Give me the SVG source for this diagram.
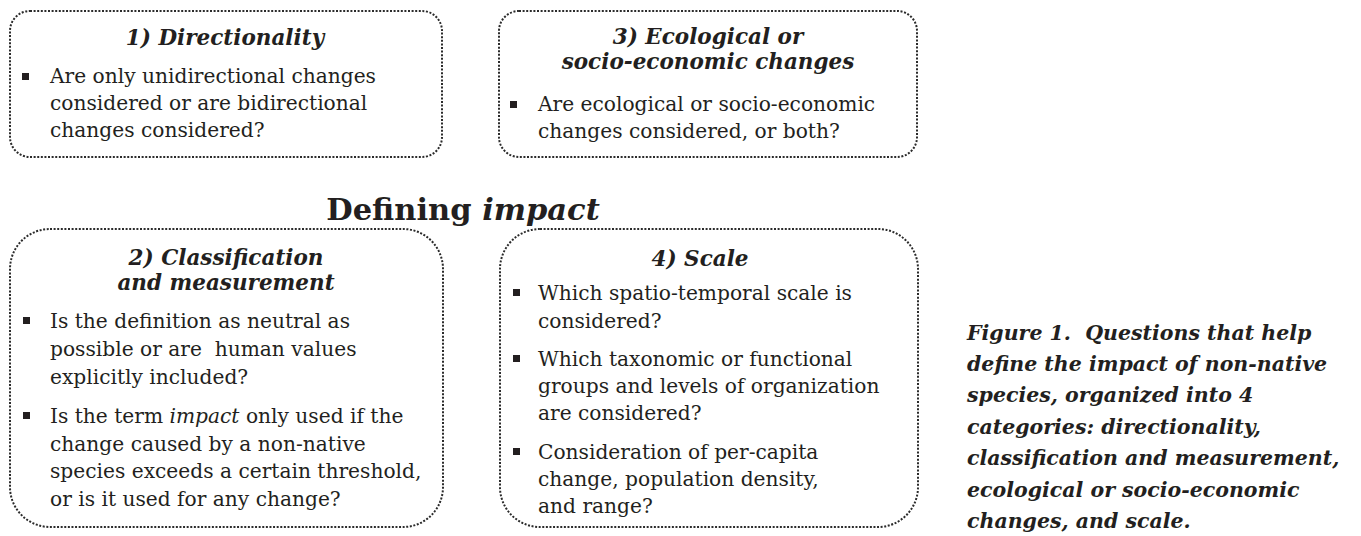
<svg xmlns="http://www.w3.org/2000/svg" width="1361" height="536" viewBox="0 0 1361 536">
<style>
.box{fill:none;stroke:#2b2b2b;stroke-width:2;stroke-dasharray:2 1.6}
.hd{font-family:"DejaVu Serif","Liberation Serif",serif;font-weight:bold;font-style:italic;font-size:21.5px;fill:#231f20;text-anchor:middle}
.tx{font-family:"DejaVu Serif","Liberation Serif",serif;font-size:20.2px;fill:#231f20;white-space:pre}
.bl{fill:#231f20}
.title{font-family:"DejaVu Serif","Liberation Serif",serif;font-weight:bold;font-size:30.5px;fill:#231f20;text-anchor:middle}
.cap{font-family:"DejaVu Serif","Liberation Serif",serif;font-weight:bold;font-style:italic;font-size:20.5px;fill:#231f20;white-space:pre}
</style>
<rect width="1361" height="536" fill="#ffffff"/>

<g id="node-directionality">
<rect class="box" x="10" y="11" width="432" height="146" rx="20" ry="20"/>
<text class="hd" x="225" y="45">1) Directionality</text>
<rect class="bl" x="22" y="73" width="7" height="7"/>
<text class="tx" x="50" y="83">Are only unidirectional changes</text>
<text class="tx" x="50" y="110">considered or are bidirectional</text>
<text class="tx" x="50" y="137">changes considered?</text>
</g>

<g id="node-ecological">
<rect class="box" x="499" y="11" width="418" height="146" rx="20" ry="20"/>
<text class="hd" x="708" y="44">3) Ecological or</text>
<text class="hd" x="708" y="69">socio-economic changes</text>
<rect class="bl" x="510" y="101" width="7" height="7"/>
<text class="tx" x="538" y="111">Are ecological or socio-economic</text>
<text class="tx" x="538" y="138">changes considered, or both?</text>
</g>

<g id="title">
<text class="title" x="463" y="220">Defining <tspan font-style="italic">impact</tspan></text>
</g>

<g id="node-classification">
<rect class="box" x="10" y="229" width="433" height="298" rx="40" ry="40"/>
<text class="hd" x="226" y="265">2) Classification</text>
<text class="hd" x="226" y="290">and measurement</text>
<rect class="bl" x="23" y="317" width="7" height="7"/>
<text class="tx" x="50" y="328">Is the definition as neutral as</text>
<text class="tx" x="50" y="356" xml:space="preserve">possible or are  human values</text>
<text class="tx" x="50" y="384">explicitly included?</text>
<rect class="bl" x="23" y="412" width="7" height="7"/>
<text class="tx" x="50" y="423">Is the term <tspan font-style="italic">impact</tspan> only used if the</text>
<text class="tx" x="50" y="451">change caused by a non-native</text>
<text class="tx" x="50" y="478">species exceeds a certain threshold,</text>
<text class="tx" x="50" y="506">or is it used for any change?</text>
</g>

<g id="node-scale">
<rect class="box" x="500" y="229" width="418" height="298" rx="40" ry="40"/>
<text class="hd" x="700" y="266">4) Scale</text>
<rect class="bl" x="513" y="289" width="7" height="7"/>
<text class="tx" x="538" y="300">Which spatio-temporal scale is</text>
<text class="tx" x="538" y="328">considered?</text>
<rect class="bl" x="513" y="355" width="7" height="7"/>
<text class="tx" x="538" y="366">Which taxonomic or functional</text>
<text class="tx" x="538" y="393">groups and levels of organization</text>
<text class="tx" x="538" y="420">are considered?</text>
<rect class="bl" x="513" y="448" width="7" height="7"/>
<text class="tx" x="538" y="459">Consideration of per-capita</text>
<text class="tx" x="538" y="486">change, population density,</text>
<text class="tx" x="538" y="513">and range?</text>
</g>

<g id="caption">
<text class="cap" x="967" y="340" xml:space="preserve">Figure 1.  Questions that help</text>
<text class="cap" x="967" y="371">define the impact of non-native</text>
<text class="cap" x="967" y="402">species, organized into 4</text>
<text class="cap" x="967" y="434">categories: directionality,</text>
<text class="cap" x="967" y="465">classification and measurement,</text>
<text class="cap" x="967" y="497">ecological or socio-economic</text>
<text class="cap" x="967" y="528">changes, and scale.</text>
</g>
</svg>
